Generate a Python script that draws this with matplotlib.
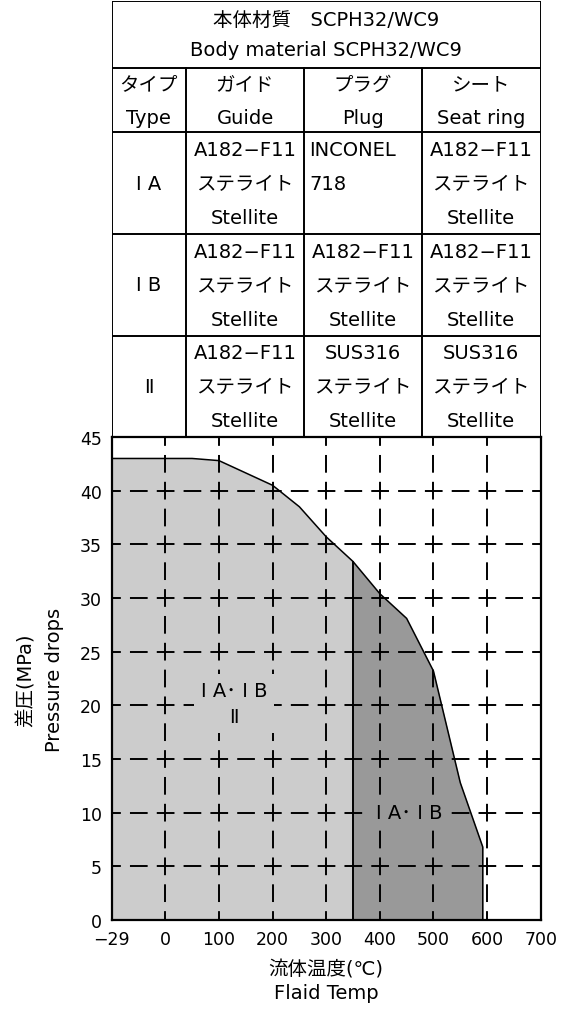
import matplotlib.pyplot as plt
import numpy as np

plt.rcParams['font.family'] = ['DejaVu Sans', 'Noto Sans CJK JP']
plt.rcParams['lines.scale_dashes'] = False

# boundary curve (temp in degC, pressure in MPa)
temp = [-29, 50, 100, 200, 250, 300, 350, 400, 450, 500, 550, 592]
pressure = [43, 43, 42.8, 40.5, 38.5, 35.7, 33.4, 30.4, 28.1, 23.2, 12.8, 6.8]
split_temp = 350

x_ticks = [-29, 0, 100, 200, 300, 400, 500, 600, 700]
x_labels = ['−29', '0', '100', '200', '300', '400', '500', '600', '700']
y_ticks = [0, 5, 10, 15, 20, 25, 30, 35, 40, 45]

title_lines = ['本体材質　SCPH32/WC9', 'Body material SCPH32/WC9']
header = [['タイプ', 'Type'], ['ガイド', 'Guide'], ['プラグ', 'Plug'], ['シート', 'Seat ring']]
types = ['Ⅰ A', 'Ⅰ B', 'Ⅱ']
guide = [['A182−F11', 'ステライト', 'Stellite']] * 3
plug = [['INCONEL', '718'],
        ['A182−F11', 'ステライト', 'Stellite'],
        ['SUS316', 'ステライト', 'Stellite']]
seat = [['A182−F11', 'ステライト', 'Stellite'],
        ['A182−F11', 'ステライト', 'Stellite'],
        ['SUS316', 'ステライト', 'Stellite']]
zone_label = 'Ⅰ A･ Ⅰ B'

light = '#cccccc'
dark = '#999999'

W, H = 568, 1020
fig = plt.figure(figsize=(W / 100, H / 100), dpi=100)
ax_l, ax_r, ax_t, ax_b = 111.7, 540.7, 438, 921
ax = fig.add_axes([ax_l / W, 1 - ax_b / H, (ax_r - ax_l) / W, (ax_b - ax_t) / H])

tick_pos = np.arange(len(x_ticks))


def fwd(x):
    return np.interp(x, x_ticks, tick_pos)


def inv(p):
    return np.interp(p, tick_pos, x_ticks)


ax.set_xscale('function', functions=(fwd, inv))
ax.set_xlim(x_ticks[0], x_ticks[-1])
ax.set_ylim(y_ticks[0], y_ticks[-1])

t = np.array(temp, dtype=float)
p = np.array(pressure, dtype=float)
p_split = np.interp(split_temp, t, p)
tl = np.append(t[t < split_temp], split_temp)
pl = np.append(p[t < split_temp], p_split)
td = np.insert(t[t > split_temp], 0, split_temp)
pd_ = np.insert(p[t > split_temp], 0, p_split)
ax.fill_between(tl, 0, pl, color=light, lw=0, zorder=1)
ax.fill_between(td, 0, pd_, color=dark, lw=0, zorder=1)

# dashed grid, dashes centred on each crossing
cell_x = (ax_r - ax_l) / (len(x_ticks) - 1) * 0.72
cell_y = (ax_b - ax_t) / (len(y_ticks) - 1) * 0.72
for cell, ticks, vertical in [(cell_y, x_ticks[1:-1], True), (cell_x, y_ticks[1:-1], False)]:
    per = cell / 2
    on = per * 0.66
    ls = (on / 2, (on, per - on))
    for v in ticks:
        if vertical:
            ax.plot([v, v], [y_ticks[0], y_ticks[-1]], color='k', lw=1.4, ls=ls, zorder=2)
        else:
            ax.plot([x_ticks[0], x_ticks[-1]], [v, v], color='k', lw=1.4, ls=ls, zorder=2)

ax.plot(np.append(t, t[-1]), np.append(p, 0), color='k', lw=1.1, zorder=3)
ax.plot([split_temp, split_temp], [0, p_split], color='k', lw=1.4, zorder=3)

ax.text(128, 20.2, zone_label + '\nⅡ', ha='center', va='center', fontsize=14, linespacing=1.45,
        bbox=dict(facecolor=light, edgecolor='none', pad=5), zorder=4)
ax.text(455, 10, zone_label, ha='center', va='center', fontsize=14,
        bbox=dict(facecolor=dark, edgecolor='none', pad=4), zorder=4)

ax.set_xticks(x_ticks)
ax.set_xticklabels(x_labels)
ax.set_yticks(y_ticks)
ax.minorticks_off()
ax.tick_params(length=0, labelsize=12.5, pad=7)
for s in ax.spines.values():
    s.set_linewidth(1.6)
    s.set_zorder(5)

fig.text(26 / W, 1 - 680 / H, '差圧(MPa)', rotation=90, ha='center', va='center', fontsize=14)
fig.text(54 / W, 1 - 680 / H, 'Pressure drops', rotation=90, ha='center', va='center', fontsize=14)
fig.text(326 / W, 1 - 970 / H, '流体温度(℃)', ha='center', va='center', fontsize=14)
fig.text(326 / W, 1 - 994 / H, 'Flaid Temp', ha='center', va='center', fontsize=14)

# material table above the chart
tb = fig.add_axes([ax_l / W, 1 - ax_t / H, (ax_r - ax_l) / W, (ax_t - 2) / H])
tw, th = ax_r - ax_l, ax_t - 2
tb.set_xlim(0, tw)
tb.set_ylim(th, 0)
tb.axis('off')
col_edges = [0, 74.3, 192.3, 310, tw]
row_edges = [0, 67, 131.3, 233, 334.7, th]
lw_t = 1.4
for y in row_edges:
    tb.plot([0, tw], [y, y], color='k', lw=lw_t, solid_capstyle='projecting')
for x in [0, tw]:
    tb.plot([x, x], [0, th], color='k', lw=lw_t, solid_capstyle='projecting')
for x in col_edges[1:-1]:
    tb.plot([x, x], [row_edges[1], th], color='k', lw=lw_t)

fs = 14
for line, fr in zip(title_lines, [0.27, 0.72]):
    tb.text(tw / 2, row_edges[0] + fr * (row_edges[1] - row_edges[0]), line,
            ha='center', va='center', fontsize=fs)
for i, lines in enumerate(header):
    cx = (col_edges[i] + col_edges[i + 1]) / 2
    for line, fr in zip(lines, [0.25, 0.77]):
        tb.text(cx, row_edges[1] + fr * (row_edges[2] - row_edges[1]), line,
                ha='center', va='center', fontsize=fs)

line_fr = [0.17, 0.505, 0.84]
for r in range(len(types)):
    top, bot = row_edges[r + 2], row_edges[r + 3]
    tb.text((col_edges[0] + col_edges[1]) / 2, (top + bot) / 2, types[r],
            ha='center', va='center', fontsize=fs)
    for c, cell in enumerate([guide[r], plug[r], seat[r]], start=1):
        left_aligned = len(cell) < 3
        for line, fr in zip(cell, line_fr):
            if left_aligned:
                tb.text(col_edges[c] + 5, top + fr * (bot - top), line,
                        ha='left', va='center', fontsize=fs)
            else:
                tb.text((col_edges[c] + col_edges[c + 1]) / 2, top + fr * (bot - top), line,
                        ha='center', va='center', fontsize=fs)

fig.savefig('out.png', dpi=100)
